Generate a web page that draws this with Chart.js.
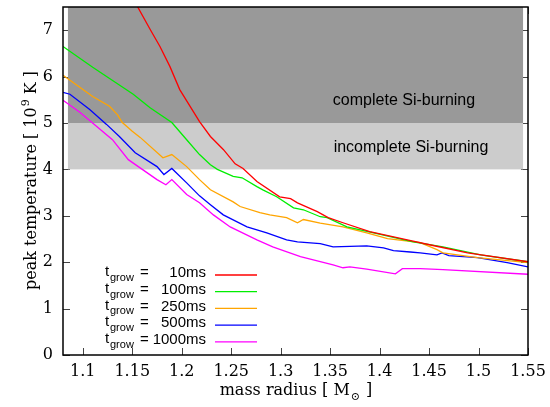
<!DOCTYPE html>
<html>
<head>
<meta charset="utf-8">
<script src="https://cdn.jsdelivr.net/npm/chart.js@4.4.1/dist/chart.umd.min.js"></script>
<style>
  body { margin: 0; background: #fff; }
  canvas { display: block; }
</style>
</head>
<body>
<canvas id="chart" width="550" height="407"></canvas>
<script>
// peak temperature vs mass radius, one series per growth time
const growTimes = ['10ms', '100ms', '250ms', '500ms', '1000ms'];
const lineColors = ['#ff0000', '#00ee00', '#ffa500', '#0000ff', '#ff00ff'];

const x10 = [1.150, 1.155, 1.168, 1.178, 1.188, 1.198, 1.218, 1.229, 1.242, 1.254, 1.262, 1.276, 1.299, 1.310, 1.317, 1.337, 1.348, 1.363, 1.390, 1.428, 1.454, 1.489, 1.550];
const t10 = [7.65, 7.52, 7.02, 6.65, 6.22, 5.72, 5.03, 4.71, 4.43, 4.12, 4.02, 3.74, 3.41, 3.37, 3.28, 3.09, 2.96, 2.85, 2.66, 2.48, 2.36, 2.20, 2.01];

const x100 = [1.080, 1.110, 1.151, 1.168, 1.190, 1.205, 1.218, 1.229, 1.236, 1.252, 1.261, 1.276, 1.282, 1.296, 1.313, 1.323, 1.340, 1.347, 1.367, 1.394, 1.434, 1.464, 1.502, 1.550];
const t100 = [6.65, 6.20, 5.62, 5.33, 5.01, 4.64, 4.32, 4.10, 4.00, 3.85, 3.82, 3.63, 3.56, 3.41, 3.17, 3.13, 2.98, 2.96, 2.76, 2.63, 2.44, 2.33, 2.16, 2.01];

const x250 = [1.080, 1.110, 1.127, 1.135, 1.140, 1.150, 1.158, 1.181, 1.190, 1.205, 1.218, 1.229, 1.252, 1.259, 1.279, 1.289, 1.306, 1.317, 1.323, 1.340, 1.363, 1.387, 1.408, 1.441, 1.458, 1.464, 1.499, 1.550];
const t250 = [6.03, 5.57, 5.36, 5.18, 5.01, 4.82, 4.69, 4.25, 4.32, 4.06, 3.78, 3.56, 3.30, 3.20, 3.07, 3.02, 2.96, 2.85, 2.92, 2.84, 2.76, 2.63, 2.51, 2.42, 2.27, 2.20, 2.10, 1.99];

const x500 = [1.080, 1.087, 1.107, 1.124, 1.137, 1.153, 1.175, 1.182, 1.190, 1.205, 1.218, 1.229, 1.242, 1.266, 1.286, 1.306, 1.317, 1.340, 1.353, 1.387, 1.404, 1.414, 1.431, 1.441, 1.458, 1.463, 1.470, 1.499, 1.529, 1.550];
const t500 = [5.66, 5.62, 5.29, 4.97, 4.71, 4.36, 4.06, 3.89, 4.02, 3.71, 3.43, 3.24, 3.02, 2.76, 2.63, 2.48, 2.44, 2.40, 2.33, 2.35, 2.31, 2.25, 2.22, 2.20, 2.16, 2.20, 2.14, 2.10, 1.99, 1.90];

const x1000 = [1.080, 1.097, 1.130, 1.146, 1.175, 1.184, 1.190, 1.205, 1.218, 1.232, 1.249, 1.276, 1.292, 1.320, 1.353, 1.363, 1.370, 1.387, 1.416, 1.423, 1.441, 1.464, 1.550];
const t1000 = [5.49, 5.23, 4.64, 4.21, 3.78, 3.67, 3.78, 3.46, 3.28, 3.02, 2.76, 2.48, 2.33, 2.12, 1.94, 1.88, 1.90, 1.85, 1.75, 1.86, 1.86, 1.84, 1.74];

const xSeries = [x10, x100, x250, x500, x1000];
const tSeries = [t10, t100, t250, t500, t1000];

// burning regimes (shaded bands)
const bands = [
  { label: 'complete Si-burning', from: 5, to: 7.5, color: '#999999' },
  { label: 'incomplete Si-burning', from: 4, to: 5, color: '#cccccc' }
];
const bandX = [1.085, 1.545];

const serif = '"DejaVu Serif", serif';
const sans = '"Liberation Sans", Arial, sans-serif';

const datasets = growTimes.map((g, i) => ({
  label: g,
  data: xSeries[i].map((x, j) => ({ x: x, y: tSeries[i][j] })),
  borderColor: lineColors[i],
  borderWidth: 1.3,
  pointRadius: 0,
  tension: 0,
  fill: false
}));

// keep the plot box where the reference has it
function noPad(s) {
  s.paddingTop = 0; s.paddingBottom = 0; s.paddingLeft = 0; s.paddingRight = 0;
}

const decor = {
  id: 'decor',
  beforeDatasetsDraw(chart) {
    const { ctx, chartArea: a, scales: { x, y } } = chart;
    ctx.save();
    // inward tick marks on all four sides
    ctx.strokeStyle = '#444';
    ctx.lineWidth = 1;
    const tl = 7;
    y.ticks.forEach(t => {
      const py = Math.round(y.getPixelForValue(t.value)) + 0.5;
      ctx.beginPath();
      ctx.moveTo(a.left, py); ctx.lineTo(a.left + tl, py);
      ctx.moveTo(a.right, py); ctx.lineTo(a.right - tl, py);
      ctx.stroke();
    });
    x.ticks.forEach(t => {
      const px = Math.round(x.getPixelForValue(t.value)) + 0.5;
      ctx.beginPath();
      ctx.moveTo(px, a.bottom); ctx.lineTo(px, a.bottom - tl);
      ctx.moveTo(px, a.top); ctx.lineTo(px, a.top + tl);
      ctx.stroke();
    });
    // shaded bands
    const x0 = x.getPixelForValue(bandX[0]);
    const x1 = x.getPixelForValue(bandX[1]);
    bands.forEach(b => {
      const y0 = y.getPixelForValue(Math.min(b.to, y.max));
      const y1 = y.getPixelForValue(b.from);
      ctx.fillStyle = b.color;
      ctx.fillRect(x0, y0, x1 - x0, y1 - y0);
    });
    ctx.fillStyle = '#000';
    ctx.font = '16px ' + sans;
    ctx.textAlign = 'center';
    ctx.textBaseline = 'middle';
    ctx.fillText(bands[0].label, 404, 101);
    ctx.fillText(bands[1].label, 411, 148);
    ctx.restore();
  },
  afterDatasetsDraw(chart) {
    const { ctx, chartArea: a } = chart;
    ctx.save();
    // legend
    chart.data.datasets.forEach((ds, i) => {
      const cy = 274 + i * 16.7;
      ctx.fillStyle = '#000';
      ctx.textBaseline = 'middle';
      ctx.textAlign = 'left';
      ctx.font = '15px ' + sans;
      ctx.fillText('t', 105, cy - 2);
      ctx.font = '11px ' + sans;
      ctx.fillText('grow', 110, cy + 4);
      ctx.font = '15px ' + sans;
      ctx.fillText('=', 140, cy - 1);
      ctx.textAlign = 'right';
      ctx.fillText(ds.label, 206, cy - 1);
      ctx.strokeStyle = ds.borderColor;
      ctx.lineWidth = 1.3;
      ctx.beginPath();
      ctx.moveTo(215, cy + 1); ctx.lineTo(257, cy + 1);
      ctx.stroke();
    });
    // frame
    ctx.strokeStyle = '#000';
    ctx.lineWidth = 1.5;
    ctx.strokeRect(a.left, a.top, a.right - a.left, a.bottom - a.top);

    // axis titles
    ctx.fillStyle = '#000';
    ctx.textBaseline = 'alphabetic';
    ctx.textAlign = 'left';
    ctx.font = '16px ' + serif;
    const p1 = 'peak temperature [ 10', p2 = '9', p3 = ' K ]';
    const w1 = ctx.measureText(p1).width;
    ctx.font = '11px ' + serif;
    const w2 = ctx.measureText(p2).width;
    ctx.font = '16px ' + serif;
    const w3 = ctx.measureText(p3).width;
    ctx.save();
    ctx.translate(36, 181);
    ctx.rotate(-Math.PI / 2);
    let sx = -(w1 + w2 + w3) / 2;
    ctx.fillText(p1, sx, 0);
    ctx.font = '11px ' + serif;
    ctx.fillText(p2, sx + w1 + 1, -7);
    ctx.font = '16px ' + serif;
    ctx.fillText(p3, sx + w1 + w2 + 1, 0);
    ctx.restore();

    const q1 = 'mass radius [ M', q2 = '\u2299', q3 = ' ]';
    ctx.font = '16px ' + serif;
    const v1 = ctx.measureText(q1).width;
    const v3 = ctx.measureText(q3).width;
    ctx.font = '11px ' + serif;
    const v2 = ctx.measureText(q2).width;
    let tx = 295 - (v1 + v2 + v3) / 2;
    ctx.font = '16px ' + serif;
    ctx.fillText(q1, tx, 395);
    ctx.font = '11px ' + serif;
    ctx.fillText(q2, tx + v1 + 1, 400);
    ctx.font = '16px ' + serif;
    ctx.fillText(q3, tx + v1 + v2 + 2, 395);
    ctx.restore();
  }
};

new Chart(document.getElementById('chart'), {
  type: 'line',
  data: { datasets: datasets },
  options: {
    responsive: false,
    animation: false,
    layout: { padding: { top: 7, right: 22, left: 0, bottom: 0 } },
    plugins: { legend: { display: false }, tooltip: { enabled: false } },
    scales: {
      x: {
        type: 'linear',
        min: 1.08,
        max: 1.55,
        grid: { display: false, drawTicks: false },
        border: { display: false },
        ticks: {
          stepSize: 0.05,
          includeBounds: false,
          padding: 7,
          color: '#000',
          font: { family: serif, size: 16 },
          callback: v => Number(v.toFixed(2)).toString()
        },
        afterFit: s => { s.height = 52; noPad(s); }
      },
      y: {
        min: 0,
        max: 7.5,
        grid: { display: false, drawTicks: false },
        border: { display: false },
        ticks: {
          stepSize: 1,
          includeBounds: false,
          padding: 10,
          color: '#000',
          font: { family: serif, size: 16 }
        },
        afterFit: s => { s.width = 63; noPad(s); }
      }
    }
  },
  plugins: [decor]
});
</script>
</body>
</html>
